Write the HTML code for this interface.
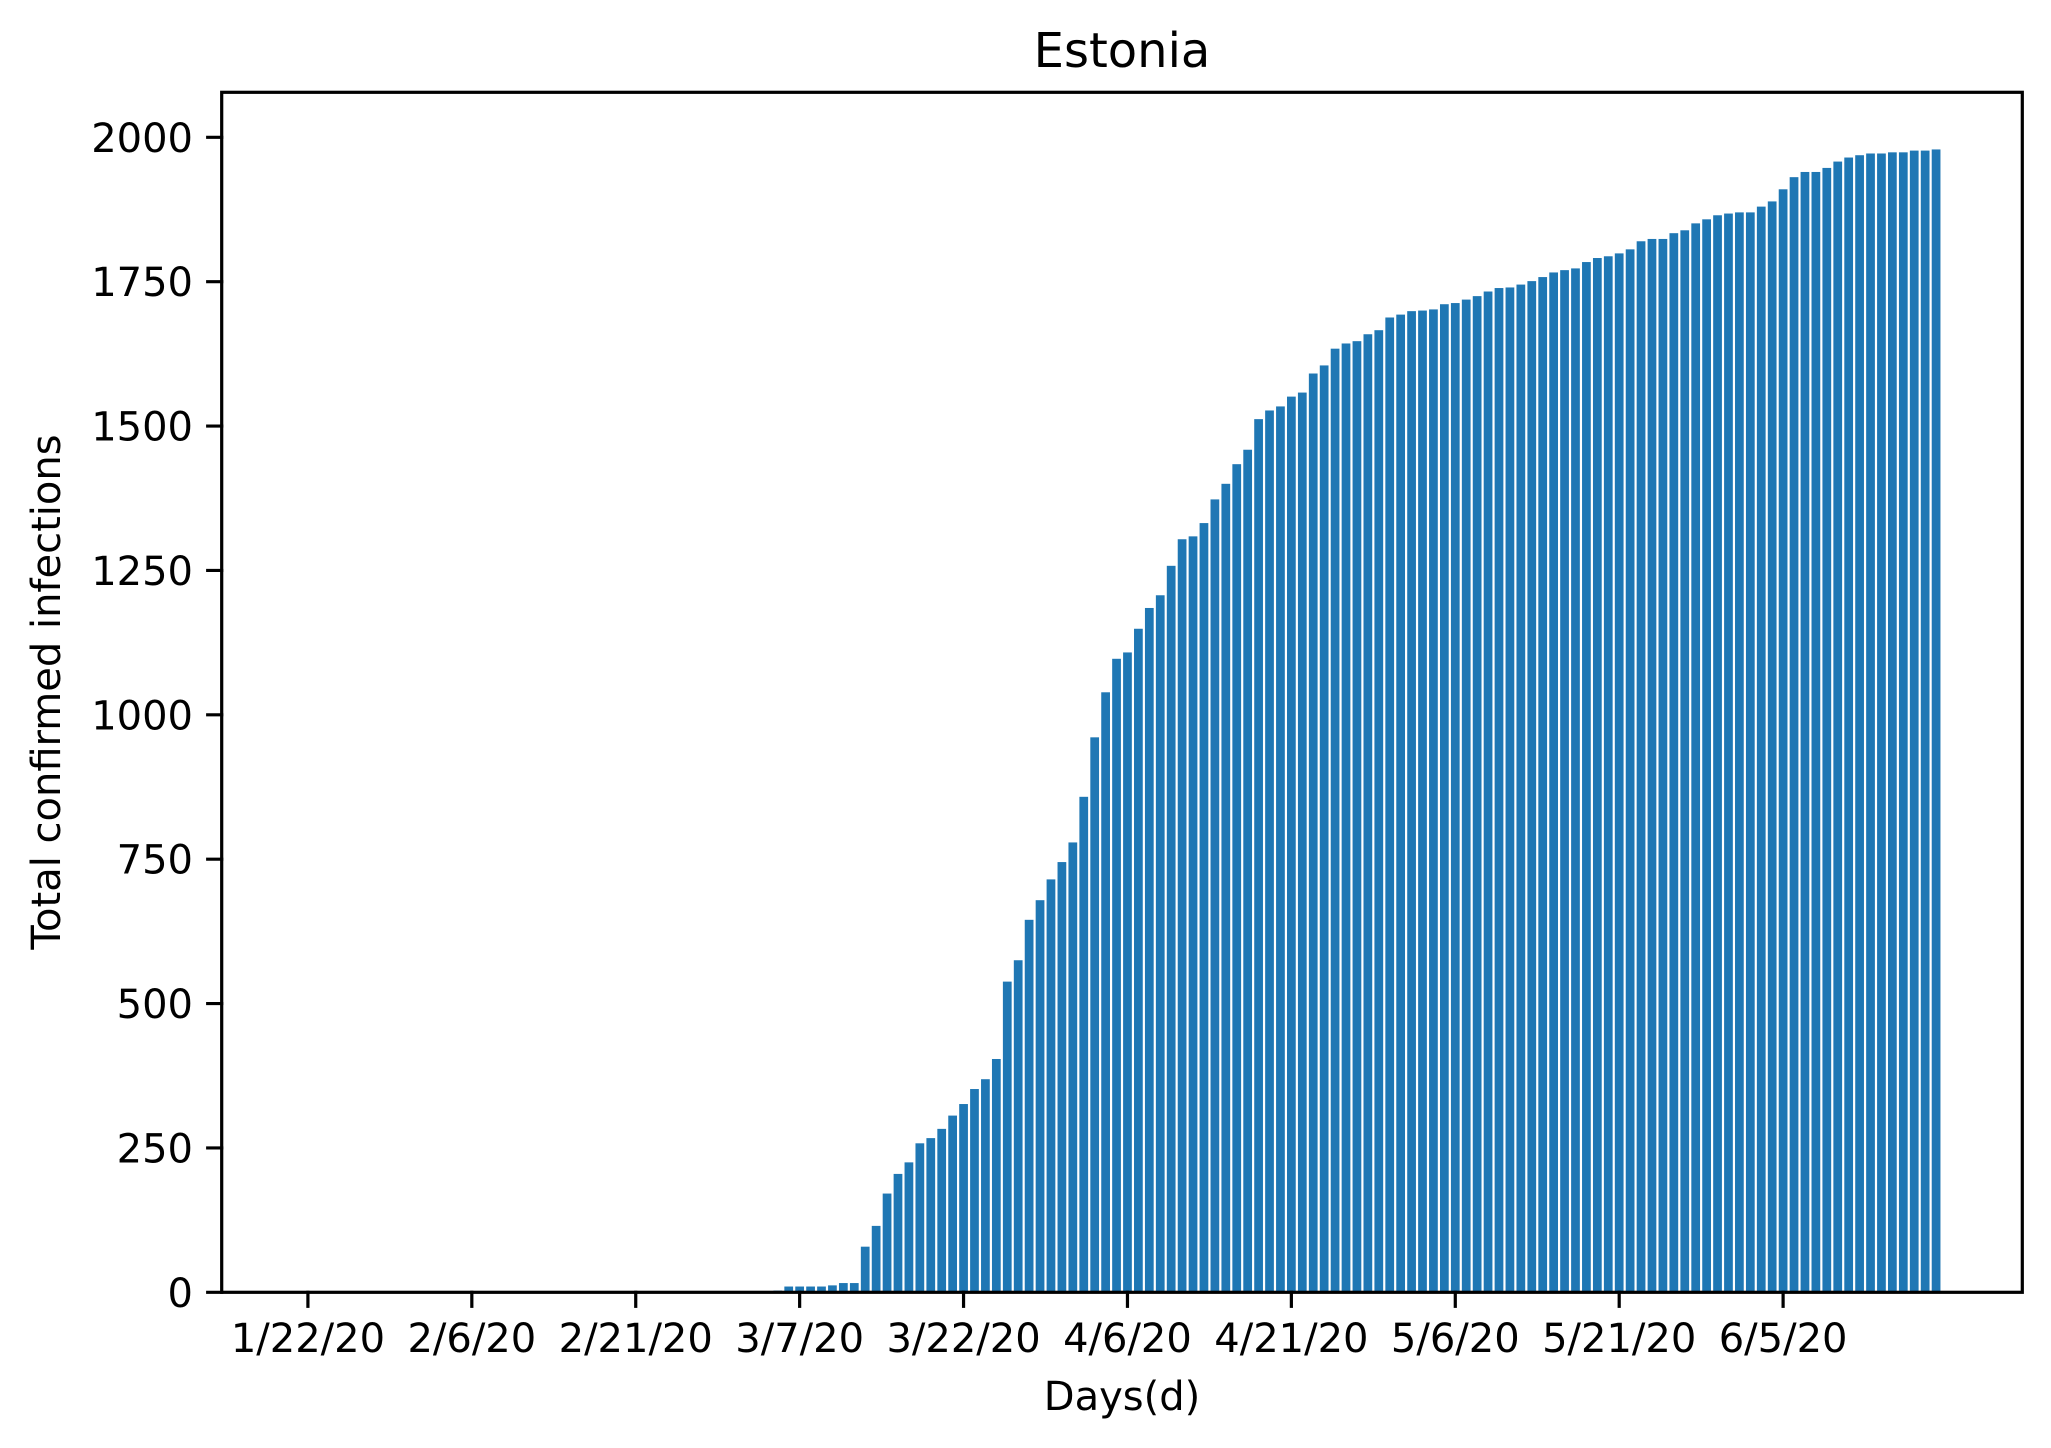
<!DOCTYPE html>
<html><head><meta charset="utf-8"><style>
html,body{margin:0;padding:0;background:#fff;}
svg{display:block;font-family:"DejaVu Sans","Liberation Sans",sans-serif;}
</style></head><body>
<svg id="chart" width="2051" height="1448" viewBox="0 0 2051 1448" xmlns="http://www.w3.org/2000/svg">
<rect width="2051" height="1448" fill="#fff"/>
<g id="bars"></g>
<g id="axes"></g>
<text x="1122" y="67" font-size="48" text-anchor="middle">Estonia</text>
<text x="1122" y="1410" font-size="40" text-anchor="middle">Days(d)</text>
<text transform="translate(60,692) rotate(-90)" font-size="40" text-anchor="middle">Total confirmed infections</text>
</svg>
<script>
const dayCount = 150;
const zeroDays = 36;
const earlyValues = [1,1,1,1,1,2,2,3,10,10,10,10,12,16,16];
const midValues = [79,115,171,205,225,258,267,283,306,326,352,369,404,538,575,645,679,715,745,779,858,961,1039,1097,1108,1149,1185,1207,1258,1304,1309,1332,1373,1400,1434,1459];
const lateValues = [1512,1527,1534,1551,1558,1591,1605,1634,1643,1647,1659,1666,1688,1693,1699,1700,1702,1711,1713,1719,1725,1733,1739,1740,1745,1751,1758,1766,1770];
const tailValues = [1773,1784,1791,1794,1799,1806,1820,1824,1824,1834,1839,1851,1858,1865,1868,1870,1870,1880,1889,1910,1931,1940,1940,1947,1958,1965,1969,1972,1972,1974,1974,1977,1977,1979];
const xTickLabels = ["1/22/20","2/6/20","2/21/20","3/7/20","3/22/20","4/6/20","4/21/20","5/6/20","5/21/20","6/5/20"];
const yTickValues = [0,250,500,750,1000,1250,1500,1750,2000];

const values = new Array(zeroDays).fill(0).concat(earlyValues, midValues, lateValues, tailValues);
const NS = "http://www.w3.org/2000/svg";
const L = 221.7, R = 2022.3, T = 92.3, B = 1292.3;
const maxV = Math.max(...values);
const xMin = -0.4 - 0.05 * (dayCount - 1 + 0.8), xMax = dayCount - 1 + 0.4 + 0.05 * (dayCount - 1 + 0.8);
const yMax = maxV * 1.05;
const xs = i => L + (i - xMin) / (xMax - xMin) * (R - L);
const ys = v => B - v / yMax * (B - T);
const bw = 0.8 * (R - L) / (xMax - xMin);

const barsG = document.getElementById('bars');
values.forEach((v, i) => {
  if (v <= 0) return;
  const r = document.createElementNS(NS, 'rect');
  r.setAttribute('x', xs(i) - bw / 2);
  r.setAttribute('y', ys(v));
  r.setAttribute('width', bw);
  r.setAttribute('height', B - ys(v));
  r.setAttribute('fill', '#1f77b4');
  
  
  barsG.appendChild(r);
});

const ax = document.getElementById('axes');
function line(x1, y1, x2, y2, name) {
  const l = document.createElementNS(NS, 'line');
  l.setAttribute('x1', x1); l.setAttribute('y1', y1);
  l.setAttribute('x2', x2); l.setAttribute('y2', y2);
  l.setAttribute('stroke', '#000'); l.setAttribute('stroke-width', '3.2');
  l.setAttribute('stroke-linecap', 'square');
  
  
  ax.appendChild(l);
}
function text(x, y, s, anchor, name) {
  const t = document.createElementNS(NS, 'text');
  t.setAttribute('x', x); t.setAttribute('y', y);
  t.setAttribute('font-size', '40'); t.setAttribute('text-anchor', anchor);
  t.textContent = s;
  
  
  ax.appendChild(t);
}
yTickValues.forEach(v => {
  const y = ys(v);
  const tk = document.createElementNS(NS, 'line');
  line(L - 14, y, L, y, 'y-tick');
  text(193, y + 14.5, String(v), 'end', 'y-tick-label');
});
xTickLabels.forEach((s, k) => {
  const x = xs(k * 15);
  line(x, B, x, B + 14, 'x-tick');
  text(x, 1352, s, 'middle', 'x-tick-label');
});
const frame = document.createElementNS(NS, 'rect');
frame.setAttribute('x', L); frame.setAttribute('y', T);
frame.setAttribute('width', R - L); frame.setAttribute('height', B - T);
frame.setAttribute('fill', 'none'); frame.setAttribute('stroke', '#000');
frame.setAttribute('stroke-width', '3.2');


ax.appendChild(frame);
</script>
</body></html>
